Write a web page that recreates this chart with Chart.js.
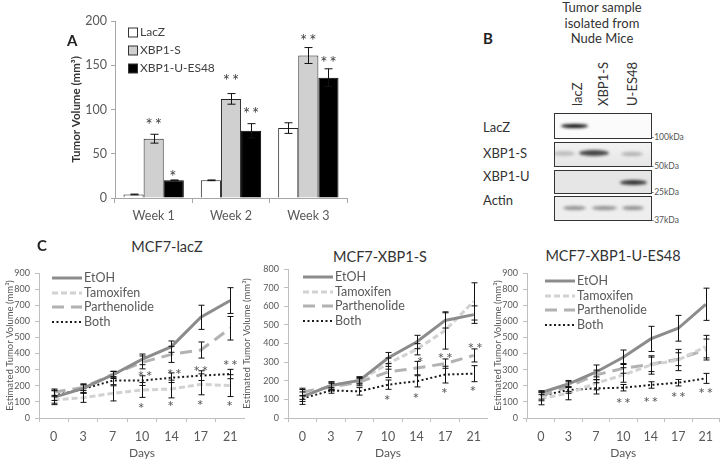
<!DOCTYPE html>
<html>
<head>
<meta charset="utf-8">
<script src="https://cdn.jsdelivr.net/npm/chart.js@4.4.1/dist/chart.umd.min.js"></script>
<style>
  body { margin: 0; width: 720px; height: 460px; background: #fff; position: relative; overflow: hidden; font-family: Lato, "Open Sans", sans-serif; color: #333; }
  canvas { position: absolute; display: block; }
  .t { position: absolute; white-space: nowrap; }
  .letter { font-weight: bold; font-size: 15px; color: #222; }
  .blot { position: absolute; left: 554px; width: 96px; border: 1px solid #333; overflow: hidden; }
  .band { position: absolute; border-radius: 50%; filter: blur(1.5px); }
  .kda { position: absolute; left: 651px; font-size: 8.5px; color: #555; line-height: 10px; }
  .lane { position: absolute; top: 106px; font-size: 13px; line-height: 15px; transform: rotate(-90deg); transform-origin: left top; color: #333; }
  .row { position: absolute; left: 483px; font-size: 13px; line-height: 15px; color: #333; }
</style>
</head>
<body>

<!-- panel A -->
<canvas id="cA" width="300" height="230" style="left:62px;top:0px"></canvas>
<div class="t letter" style="left:67px;top:31px">A</div>

<!-- panel B (blot picture, not chart data) -->
<div class="t letter" style="left:483px;top:29px">B</div>
<div class="t" style="left:552px;top:0px;width:100px;text-align:center;font-size:13px;line-height:15.5px">Tumor sample<br>isolated from<br>Nude Mice</div>
<div class="lane" style="left:570px">lacZ</div>
<div class="lane" style="left:596px">XBP1-S</div>
<div class="lane" style="left:625px">U-ES48</div>

<div class="row" style="top:120px">LacZ</div>
<div class="row" style="top:146px">XBP1-S</div>
<div class="row" style="top:169px">XBP1-U</div>
<div class="row" style="top:193px">Actin</div>

<div class="blot" style="top:113px;height:24px;background:#fbfbfb">
  <div class="band" style="left:6px;top:10px;width:27px;height:4px;background:#111"></div>
</div>
<div class="blot" style="top:142px;height:23px;background:linear-gradient(#f2f2f2,#e6e6e6)">
  <div class="band" style="left:-2px;top:8px;width:22px;height:5px;background:#bdbdbd"></div>
  <div class="band" style="left:24px;top:7px;width:30px;height:6px;background:#444"></div>
  <div class="band" style="left:66px;top:9px;width:22px;height:4px;background:#b0b0b0"></div>
</div>
<div class="blot" style="top:170px;height:22px;background:#e6e6e6">
  <div class="band" style="left:65px;top:9px;width:27px;height:5px;background:#333"></div>
</div>
<div class="blot" style="top:196px;height:23px;background:#eeeeee">
  <div class="band" style="left:8px;top:9px;width:23px;height:4px;background:#909090"></div>
  <div class="band" style="left:37px;top:9px;width:25px;height:4px;background:#909090"></div>
  <div class="band" style="left:67px;top:9px;width:22px;height:4px;background:#909090"></div>
</div>
<div class="kda" style="top:132px">-100kDa</div>
<div class="kda" style="top:161px">-50kDa</div>
<div class="kda" style="top:187px">-25kDa</div>
<div class="kda" style="top:215px">-37kDa</div>

<!-- panel C -->
<div class="t letter" style="left:37px;top:236px">C</div>
<div class="t" style="left:117px;top:238px;width:100px;text-align:center;font-size:14.5px">MCF7-lacZ</div>
<div class="t" style="left:320px;top:248px;width:120px;text-align:center;font-size:14.5px">MCF7-XBP1-S</div>
<div class="t" style="left:543px;top:247px;width:140px;text-align:center;font-size:14.5px">MCF7-XBP1-U-ES48</div>

<canvas id="c1" width="245" height="202" style="left:0px;top:258px"></canvas>
<canvas id="c2" width="248" height="202" style="left:240px;top:258px"></canvas>
<canvas id="c3" width="245" height="202" style="left:475px;top:258px"></canvas>

<script>
const F = 'Lato, "Open Sans", sans-serif';

// panel A data
const weeks = ['Week 1', 'Week 2', 'Week 3'];
const barLacZ = [4, 20, 79];
const barLacZErr = [0.4, 0.4, 6];
const barS = [67, 112, 161];
const barSErr = [5, 6, 9];
const barU = [20, 76, 136];
const barUErr = [0.4, 8, 10];
// [dataset, index, y value, text]
const barStars = [[1, 0, 86, '**'], [2, 0, 28, '*'], [1, 1, 136, '**'], [2, 1, 99, '**'], [1, 2, 181, '**'], [2, 2, 157, '**']];

// panel C data
const days = ['0', '3', '7', '10', '14', '17', '21'];

const lzEtoh = [128, 184, 267, 364, 443, 625, 729];
const lzEtohErr = [45, 27, 22, 33, 35, 75, 80];
const lzTam = [112, 126, 153, 174, 180, 209, 201];
const lzTamErr = [20, 29, 47, 46, 55, 65, 68];
const lzPar = [160, 190, 270, 345, 395, 422, 557];
const lzParErr = [20, 20, 20, 40, 50, 50, 73];
const lzBoth = [139, 180, 232, 232, 250, 263, 273];
const lzBothErr = [30, 25, 25, 30, 30, 30, 29];
const lzStars = [[3.1, 277, '**'], [4.1, 292, '**'], [5, 308, '**'], [6, 346, '**'],
                 [3, 81, '*'], [4, 95, '*'], [5, 101, '*'], [6, 95, '*']];

const sEtoh = [113, 175, 202, 322, 408, 524, 555];
const sEtohErr = [40, 20, 15, 30, 36, 41, 47];
const sTam = [120, 172, 202, 292, 369, 470, 626];
const sTamErr = [20, 20, 20, 30, 30, 100, 100];
const sPar = [140, 166, 193, 247, 268, 292, 336];
const sParErr = [20, 20, 20, 30, 36, 25, 35];
const sBoth = [104, 148, 143, 179, 197, 233, 238];
const sBothErr = [15, 15, 20, 25, 30, 45, 43];
const sStars = [[4.15, 315, '*'], [5, 336, '**'], [6.05, 394, '**'],
                [3, 113, '*'], [4, 125, '*'], [5, 152, '*'], [6, 161, '*']];

const uEtoh = [157, 211, 284, 377, 491, 557, 706];
const uEtohErr = [12, 22, 45, 45, 78, 80, 100];
const uTam = [122, 153, 215, 267, 329, 360, 443];
const uTamErr = [40, 40, 40, 45, 57, 66, 70];
const uPar = [137, 195, 267, 308, 333, 365, 425];
const uParErr = [30, 30, 30, 30, 45, 40, 65];
const uBoth = [137, 174, 184, 188, 205, 219, 246];
const uBothErr = [20, 20, 35, 20, 20, 20, 31];
const uStars = [[3, 112, '**'], [4, 118, '**'], [5, 147, '**'], [6, 174, '**']];

// error bars from dataset.errors, drawn with the y scale
const errorBars = {
  id: 'errorBars',
  afterDatasetsDraw(chart, args, opts) {
    const ctx = chart.ctx, y = chart.scales.y;
    ctx.save();
    ctx.strokeStyle = '#111';
    ctx.lineWidth = 1;
    chart.data.datasets.forEach((ds, di) => {
      if (!ds.errors) return;
      chart.getDatasetMeta(di).data.forEach((el, i) => {
        const e = ds.errors[i], v = ds.data[i];
        const x = Math.round(el.x) + 0.5;
        const top = y.getPixelForValue(v + e), bot = y.getPixelForValue(v - e);
        ctx.beginPath();
        ctx.moveTo(x, top); ctx.lineTo(x, bot);
        ctx.moveTo(x - opts.cap, top); ctx.lineTo(x + opts.cap, top);
        ctx.moveTo(x - opts.cap, bot); ctx.lineTo(x + opts.cap, bot);
        ctx.stroke();
      });
    });
    ctx.restore();
  }
};

// significance stars
const stars = {
  id: 'stars',
  afterDatasetsDraw(chart, args, opts) {
    const ctx = chart.ctx, xs = chart.scales.x, ys = chart.scales.y;
    ctx.save();
    ctx.fillStyle = opts.color;
    ctx.font = opts.size + 'px ' + F;
    ctx.letterSpacing = opts.spacing + 'px';
    ctx.textAlign = 'center';
    ctx.textBaseline = 'alphabetic';
    opts.items.forEach(s => {
      let x, v, t;
      if (s.length === 4) { x = chart.getDatasetMeta(s[0]).data[s[1]].x; v = s[2]; t = s[3]; }
      else { x = xs.getPixelForValue(s[0]); v = s[1]; t = s[2]; }
      ctx.fillText(t, x + (t.length - 1) * opts.spacing / 2, ys.getPixelForValue(v) + opts.size * 0.56);
    });
    ctx.restore();
  }
};

// legend drawn inside the plot area
const innerLegend = {
  id: 'innerLegend',
  afterDraw(chart, args, o) {
    const ctx = chart.ctx, a = chart.chartArea;
    ctx.save();
    ctx.font = o.size + 'px ' + F;
    ctx.textBaseline = 'middle';
    chart.data.datasets.forEach((ds, i) => {
      const x = a.left + o.x, y = Math.round(a.top + o.y + i * o.row);
      if (o.box) {
        ctx.fillStyle = ds.backgroundColor;
        ctx.fillRect(x + 0.5, y - o.box / 2 + 0.5, o.box, o.box);
        ctx.strokeStyle = '#333';
        ctx.lineWidth = 1;
        ctx.strokeRect(x + 0.5, y - o.box / 2 + 0.5, o.box, o.box);
      } else {
        ctx.strokeStyle = ds.borderColor;
        ctx.lineWidth = ds.borderWidth;
        ctx.setLineDash(ds.borderDash || []);
        ctx.beginPath();
        ctx.moveTo(x, y); ctx.lineTo(x + o.sample, y);
        ctx.stroke();
        ctx.setLineDash([]);
      }
      ctx.fillStyle = o.color;
      ctx.fillText(ds.label, x + o.sample + o.gap, y);
    });
    ctx.restore();
  }
};

// panel A
new Chart(document.getElementById('cA'), {
  type: 'bar',
  data: {
    labels: weeks,
    datasets: [
      { label: 'LacZ', data: barLacZ, errors: barLacZErr, backgroundColor: '#ffffff', borderColor: '#222', borderWidth: 1 },
      { label: 'XBP1-S', data: barS, errors: barSErr, backgroundColor: '#d0d0d0', borderColor: '#222', borderWidth: 1 },
      { label: 'XBP1-U-ES48', data: barU, errors: barUErr, backgroundColor: '#000000', borderColor: '#000', borderWidth: 1 }
    ]
  },
  options: {
    responsive: false,
    animation: false,
    layout: { padding: { top: 21, right: 15, bottom: 0, left: 0 } },
    datasets: { bar: { barPercentage: 1, categoryPercentage: 0.78 } },
    scales: {
      x: {
        grid: { drawOnChartArea: false, offset: true, tickLength: 5, color: '#a6a6a6' },
        border: { color: '#a6a6a6' },
        ticks: { font: { family: F, size: 12.5 }, color: '#595959', padding: 5 },
        afterFit(s) { s.height = 32; }
      },
      y: {
        min: 0, max: 200,
        ticks: { stepSize: 50, font: { family: F, size: 12.5 }, color: '#595959', padding: 4 },
        grid: { drawOnChartArea: false, tickLength: 4, color: '#a6a6a6' },
        border: { color: '#a6a6a6' },
        title: { display: true, text: 'Tumor Volume (mm³)', font: { family: F, size: 11.5, weight: 'bold' }, color: '#333', padding: { top: 7, bottom: 0 } },
        afterFit(s) { s.width = 53; }
      }
    },
    plugins: {
      legend: { display: false },
      tooltip: { enabled: false },
      errorBars: { cap: 4 },
      stars: { items: barStars, size: 17, spacing: 2, color: '#404040' },
      innerLegend: { box: 9, x: 13, y: 11, row: 18, sample: 9, gap: 3, size: 12, color: '#404040' }
    }
  },
  plugins: [errorBars, stars, innerLegend]
});

// panel C charts
function lineChart(id, o) {
  const line = (label, data, errors, color, width, dash) =>
    ({ label, data, errors, borderColor: color, backgroundColor: color, borderWidth: width, borderDash: dash, pointRadius: 0, tension: 0, fill: false });
  return new Chart(document.getElementById(id), {
    type: 'line',
    data: {
      labels: days,
      datasets: [
        line('EtOH', o.etoh, o.etohErr, '#8c8c8c', 3, []),
        line('Tamoxifen', o.tam, o.tamErr, '#d2d2d2', 3, [6, 3]),
        line('Parthenolide', o.par, o.parErr, '#b2b2b2', 3, [12, 7]),
        line('Both', o.both, o.bothErr, '#1a1a1a', 2, [2, 2.5])
      ]
    },
    options: {
      responsive: false,
      animation: false,
      layout: { padding: { top: o.padTop, right: 0, bottom: 0, left: 0 } },
      scales: {
        x: {
          offset: true,
          grid: { drawOnChartArea: false, offset: true, tickLength: 4, color: '#bfbfbf' },
          border: { color: '#bfbfbf' },
          ticks: { font: { family: F, size: 12.5 }, color: '#595959', padding: 7, maxRotation: 0 },
          title: { display: true, text: 'Days', font: { family: F, size: 12 }, color: '#595959', padding: { top: 0, bottom: 0 } },
          afterFit(s) { s.height = 42; }
        },
        y: {
          min: 0, max: o.yMax,
          ticks: { stepSize: 100, font: { family: F, size: 9 }, color: '#595959', padding: 5 },
          grid: { drawOnChartArea: false, tickLength: 4, color: '#bfbfbf' },
          border: { color: '#bfbfbf' },
          title: { display: true, text: 'Estimated Tumor Volume (mm³)', font: { family: F, size: 9.5 }, color: '#595959', padding: { top: o.titlePad, bottom: 0 } },
          afterFit(s) { s.width = o.yW; }
        }
      },
      plugins: {
        legend: { display: false },
        tooltip: { enabled: false },
        errorBars: { cap: 3 },
        stars: { items: o.stars, size: 16, spacing: 1.5, color: '#595959' },
        innerLegend: { x: o.legX, y: o.legY, row: 14.5, sample: 30, gap: 2, size: 12.5, color: '#595959' }
      }
    },
    plugins: [errorBars, stars, innerLegend]
  });
}

lineChart('c1', { etoh: lzEtoh, etohErr: lzEtohErr, tam: lzTam, tamErr: lzTamErr, par: lzPar, parErr: lzParErr, both: lzBoth, bothErr: lzBothErr,
  stars: lzStars, yMax: 900, padTop: 15, yW: 39, titlePad: 4, legX: 13, legY: 5 });
lineChart('c2', { etoh: sEtoh, etohErr: sEtohErr, tam: sTam, tamErr: sTamErr, par: sPar, parErr: sParErr, both: sBoth, bothErr: sBothErr,
  stars: sStars, yMax: 800, padTop: 11, yW: 48, titlePad: 1, legX: 15, legY: 8 });
lineChart('c3', { etoh: uEtoh, etohErr: uEtohErr, tam: uTam, tamErr: uTamErr, par: uPar, parErr: uParErr, both: uBoth, bothErr: uBothErr,
  stars: uStars, yMax: 900, padTop: 15, yW: 52, titlePad: 17, legX: 18, legY: 8 });
</script>
</body>
</html>
